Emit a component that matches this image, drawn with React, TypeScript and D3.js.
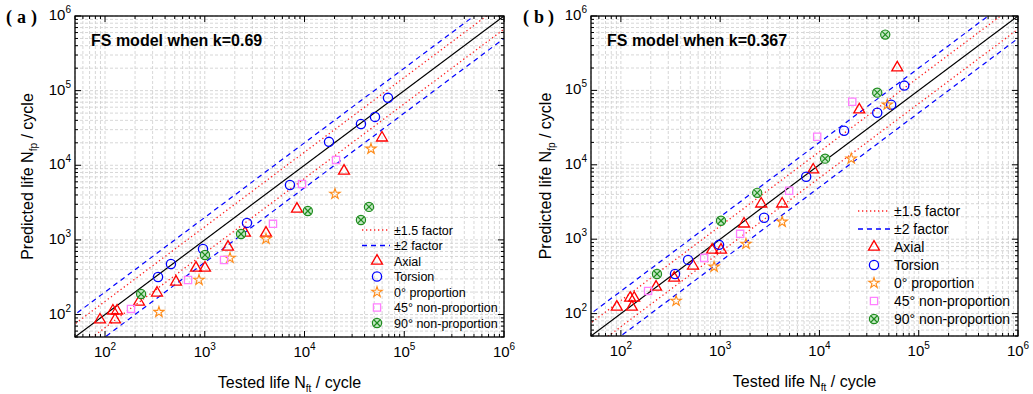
import React from "react";
import * as d3 from "d3";

// ---- data (Tested life, Predicted life) ----
// panel (a): FS model, k = 0.69
const axialA_x = [89, 120, 126, 132, 219, 332, 515, 817, 1005, 1710, 2530, 4110, 8400, 24900, 59800];
const axialA_y = [85, 112, 85, 112, 147, 195, 273, 421, 421, 805, 1240, 1240, 2600, 8400, 23300];
const torsionA_x = [340, 458, 960, 2650, 7150, 17600, 36800, 50900, 68700];
const torsionA_y = [318, 476, 757, 1690, 5450, 20600, 35800, 44500, 80000];
const prop0A_x = [347, 875, 1790, 4110, 20200, 46400];
const prop0A_y = [108, 290, 573, 1030, 4130, 16600];
const np45A_x = [182, 680, 1560, 4830, 9440, 20700];
const np45A_y = [119, 290, 538, 1640, 5620, 11800];
const np90A_x = [230, 1005, 2310, 10800, 36800, 44300];
const np90A_y = [188, 628, 1200, 2440, 1850, 2770];

// panel (b): FS model, k = 0.367
const axialB_x = [91, 124, 129, 136, 226, 344, 533, 830, 1020, 1740, 2590, 4210, 8650, 25200, 60800];
const axialB_y = [123, 162, 123, 162, 228, 302, 438, 718, 718, 1610, 2990, 2990, 8570, 55100, 202000];
const torsionB_x = [351, 475, 975, 2770, 7350, 17700, 38200, 52800, 71500];
const torsionB_y = [341, 527, 839, 1940, 6900, 28700, 50100, 64300, 116000];
const prop0B_x = [360, 869, 1820, 4210, 20900, 48200];
const prop0B_y = [148, 425, 865, 1710, 12100, 64300];
const np45B_x = [188, 689, 1590, 4950, 9490, 21400];
const np45B_y = [202, 561, 1180, 4470, 23800, 70500];
const np90B_x = [231, 1020, 2360, 11400, 38200, 46000];
const np90B_y = [341, 1770, 4200, 12100, 93300, 562000];

const seriesNames = ["Axial", "Torsion", "0° proportion", "45° non-proportion", "90° non-proportion"];
const seriesKinds = ["tri", "circ", "star", "sq", "xo"];
const bandNames = ["±1.5 factor", "±2 factor"];
const majorTicks = [1e2, 1e3, 1e4, 1e5, 1e6];
const tickExp = ["2", "3", "4", "5", "6"];

const FONT = "Arial, 'Liberation Sans', Helvetica, sans-serif";
const DOMAIN: [number, number] = [50, 1e6];
const allTicks = d3
  .range(1, 6)
  .flatMap((e) => d3.range(1, 10).map((m) => m * 10 ** e))
  .concat([1e6])
  .filter((v) => v >= 50 && v <= 1e6);

const COL = { tri: "#ff0000", circ: "#0000ff", star: "#ff8c1a", sq: "#ff80ff", xo: "#1e8c1e" };

function Marker({ kind, x, y }: { kind: string; x: number; y: number }) {
  if (kind === "circ")
    return <circle cx={x} cy={y} r={4.6} fill="none" stroke={COL.circ} strokeWidth={1.3} />;
  if (kind === "xo") {
    const r = 4.6, k = r * 0.7;
    return (
      <g stroke={COL.xo} strokeWidth={1.2}>
        <circle cx={x} cy={y} r={r} fill="#c6e8c6" />
        <line x1={x - k} y1={y - k} x2={x + k} y2={y + k} />
        <line x1={x - k} y1={y + k} x2={x + k} y2={y - k} />
      </g>
    );
  }
  const sym =
    kind === "tri" ? d3.symbol(d3.symbolTriangle, 52) :
    kind === "star" ? d3.symbol(d3.symbolStar, 34) :
    d3.symbol(d3.symbolSquare, 52);
  const c = (COL as any)[kind];
  return (
    <path d={sym() as string} transform={`translate(${x},${y})`} fill="none" stroke={c}
      strokeWidth={kind === "star" ? 1.1 : 1.3} strokeLinejoin="miter" />
  );
}

function Panel(props: any) {
  const { id, left, right, top, bottom, title, series, tag, tagX, ylabX, legend } = props;
  const x = d3.scaleLog().domain(DOMAIN).range([left, right]);
  const y = d3.scaleLog().domain(DOMAIN).range([bottom, top]);
  const lineX = [10, 1e7];
  const refLine = (f: number) =>
    d3.line<number>().x((v) => x(v)).y((v) => y(v * f))(lineX) as string;
  const cx = (left + right) / 2;
  const cy = (top + bottom) / 2;

  return (
    <g>
      <defs>
        <clipPath id={`clip-${id}`}>
          <rect x={left} y={top} width={right - left} height={bottom - top} />
        </clipPath>
      </defs>
      {/* grid */}
      <g stroke="#cdcdcd" strokeWidth={0.8} strokeDasharray="3,2">
        {allTicks.map((t) => (
          <g key={t}>
            <line x1={x(t)} x2={x(t)} y1={top} y2={bottom} />
            <line y1={y(t)} y2={y(t)} x1={left} x2={right} />
          </g>
        ))}
      </g>
      {/* 1:1 and scatter bands */}
      <g clipPath={`url(#clip-${id})`} fill="none">
        <path d={refLine(1)} stroke="#000" strokeWidth={1.2} />
        <path d={refLine(1.5)} stroke="#ff2020" strokeWidth={1.3} strokeDasharray="1.3,2.7" />
        <path d={refLine(1 / 1.5)} stroke="#ff2020" strokeWidth={1.3} strokeDasharray="1.3,2.7" />
        <path d={refLine(2)} stroke="#0000ff" strokeWidth={1.2} strokeDasharray="5,4" />
        <path d={refLine(1 / 2)} stroke="#0000ff" strokeWidth={1.2} strokeDasharray="5,4" />
      </g>
      {/* points */}
      {series.map((s: any, i: number) =>
        s.xs.map((v: number, j: number) => (
          <Marker key={`${i}-${j}`} kind={seriesKinds[i]} x={x(v)} y={y(s.ys[j])} />
        ))
      )}
      {/* frame + ticks */}
      <rect x={left} y={top} width={right - left} height={bottom - top} fill="none" stroke="#000" strokeWidth={1.3} />
      <g stroke="#000" strokeWidth={1}>
        {allTicks.map((t) => {
          const len = majorTicks.includes(t) ? 6 : 3;
          return (
            <g key={t}>
              <line x1={x(t)} x2={x(t)} y1={bottom} y2={bottom - len} />
              <line x1={x(t)} x2={x(t)} y1={top} y2={top + len} />
              <line y1={y(t)} y2={y(t)} x1={left} x2={left + len} />
              <line y1={y(t)} y2={y(t)} x1={right} x2={right - len} />
            </g>
          );
        })}
      </g>
      {/* tick labels */}
      <g fontFamily={FONT} fill="#000">
        {majorTicks.map((t, i) => (
          <text key={`x${t}`} x={x(t)} y={bottom + 20} textAnchor="middle" fontSize={15}>
            10<tspan fontSize={10} dy={-7}>{tickExp[i]}</tspan>
          </text>
        ))}
        {majorTicks.map((t, i) => (
          <text key={`y${t}`} x={left - 4} y={y(t) + 4} textAnchor="end" fontSize={15}>
            10<tspan fontSize={10} dy={-7}>{tickExp[i]}</tspan>
          </text>
        ))}
      </g>
      {/* axis titles */}
      <text x={cx} y={bottom + 51} textAnchor="middle" fontFamily={FONT} fontSize={16}>
        Tested life N<tspan fontSize={10} dy={4}>ft</tspan>
        <tspan dy={-4}> / cycle</tspan>
      </text>
      <text transform={`translate(${ylabX},${cy}) rotate(-90)`} textAnchor="middle" fontFamily={FONT} fontSize={16}>
        Predicted life N<tspan fontSize={10} dy={4}>fp</tspan>
        <tspan dy={-4}> / cycle</tspan>
      </text>
      {/* in-plot title */}
      <text x={left + 16} y={top + 30} fontFamily={FONT} fontWeight="bold" fontSize={16}>{title}</text>
      {/* panel tag, wide parentheses as in the original */}
      <g fontFamily="'Liberation Serif', 'Times New Roman', serif" fontWeight="bold" fontSize={18}>
        <text x={tagX} y={23}>(</text>
        <text x={tagX + 11} y={23}>{tag}</text>
        <text x={tagX + 25} y={23}>)</text>
      </g>
      {/* legend */}
      <g fontFamily={FONT} fontSize={legend.fs}>
        {bandNames.map((n, i) => {
          const ly = legend.y0 + i * legend.dy;
          return (
            <g key={n}>
              <line x1={legend.l1} x2={legend.l2} y1={ly} y2={ly}
                stroke={i === 0 ? "#ff2020" : "#0000ff"} strokeWidth={1.3}
                strokeDasharray={i === 0 ? "1.3,2.7" : "5,4"} />
              <text x={legend.tx} y={ly + legend.fs * 0.36}>{n}</text>
            </g>
          );
        })}
        {seriesNames.map((n, i) => {
          const ly = legend.y0 + (i + 2) * legend.dy;
          return (
            <g key={n}>
              <Marker kind={seriesKinds[i]} x={legend.mx} y={ly} />
              <text x={legend.tx} y={ly + legend.fs * 0.36}>{n}</text>
            </g>
          );
        })}
      </g>
    </g>
  );
}

export default function App() {
  const seriesA = [
    { xs: axialA_x, ys: axialA_y },
    { xs: torsionA_x, ys: torsionA_y },
    { xs: prop0A_x, ys: prop0A_y },
    { xs: np45A_x, ys: np45A_y },
    { xs: np90A_x, ys: np90A_y },
  ];
  const seriesB = [
    { xs: axialB_x, ys: axialB_y },
    { xs: torsionB_x, ys: torsionB_y },
    { xs: prop0B_x, ys: prop0B_y },
    { xs: np45B_x, ys: np45B_y },
    { xs: np90B_x, ys: np90B_y },
  ];
  return (
    <svg width={1033} height={394} style={{ position: "absolute", left: 0, top: 0, background: "#fff" }}>
      <rect width={1033} height={394} fill="#fff" />
      <Panel id="a" left={75} right={504} top={16} bottom={337} title="FS model when k=0.69"
        series={seriesA} tag="a" tagX={6} ylabX={33}
        legend={{ l1: 362, l2: 390, mx: 377, tx: 394, y0: 230, dy: 15.5, fs: 12.5 }} />
      <Panel id="b" left={591} right={1018} top={16} bottom={336} title="FS model when k=0.367"
        series={seriesB} tag="b" tagX={523} ylabX={551}
        legend={{ l1: 858, l2: 890, mx: 874, tx: 894, y0: 211, dy: 18, fs: 14 }} />
    </svg>
  );
}
